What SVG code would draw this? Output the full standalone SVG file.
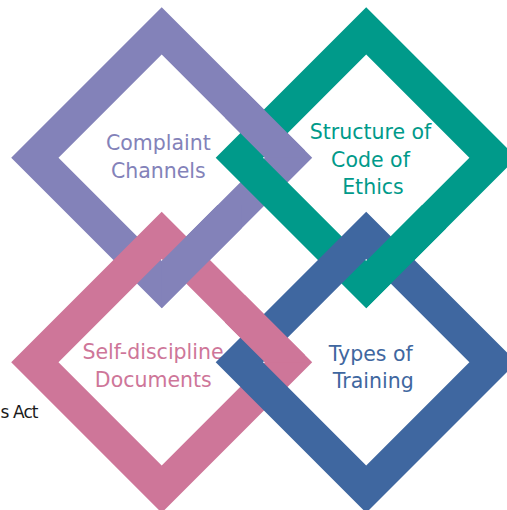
<svg xmlns="http://www.w3.org/2000/svg" xmlns:xlink="http://www.w3.org/1999/xlink" width="507" height="510" viewBox="0 0 507 510">
<style>
.lbl{font-family:"DejaVu Sans","Liberation Sans",sans-serif;font-size:20.5px;text-anchor:middle}
.ring{fill-rule:evenodd}
.purple{fill:#8382B9}
.teal{fill:#009A8A}
.pink{fill:#CE7699}
.blue{fill:#3F67A0}
</style>
<defs>
<path id="d-purple" class="ring purple" d="M161.7 7.2 L312.2 157.7 L161.7 308.2 L11.2 157.7 Z M161.7 54.5 L58.5 157.7 L161.7 260.9 L264.9 157.7 Z"/>
<path id="d-teal" class="ring teal" d="M366.2 7.2 L516.7 157.7 L366.2 308.2 L215.7 157.7 Z M366.2 54.5 L263 157.7 L366.2 260.9 L469.4 157.7 Z"/>
<path id="d-pink" class="ring pink" d="M161.7 211.8 L312.2 362.3 L161.7 512.8 L11.2 362.3 Z M161.7 259.1 L58.5 362.3 L161.7 465.5 L264.9 362.3 Z"/>
<path id="d-blue" class="ring blue" d="M366.2 211.8 L516.7 362.3 L366.2 512.8 L215.7 362.3 Z M366.2 259.1 L263 362.3 L366.2 465.5 L469.4 362.3 Z"/>
<clipPath id="cA"><rect x="225" y="90" width="80" height="67.7"/></clipPath>
<clipPath id="cB"><rect x="161.7" y="205" width="80" height="105"/></clipPath>
<clipPath id="cC"><rect x="225" y="295" width="80" height="67.3"/></clipPath>
<clipPath id="cD"><rect x="366.2" y="205" width="80" height="105"/></clipPath>
</defs>
<rect width="507" height="510" fill="#ffffff"/>
<g id="complaint-channels">
<use xlink:href="#d-purple" href="#d-purple"/>
<text class="lbl" fill="#8382B9" x="158.3" y="150">Complaint</text>
<text class="lbl" fill="#8382B9" x="158.3" y="177.5">Channels</text>
</g>
<g id="structure-code-ethics">
<use xlink:href="#d-teal" href="#d-teal"/>
<text class="lbl" fill="#009A8A" x="370.5" y="138.5">Structure of</text>
<text class="lbl" fill="#009A8A" x="370.5" y="166.5">Code of</text>
<text class="lbl" fill="#009A8A" x="373" y="194">Ethics</text>
</g>
<g id="self-discipline-documents">
<use xlink:href="#d-pink" href="#d-pink"/>
<text class="lbl" fill="#CE7699" x="153" y="358.5">Self-discipline</text>
<text class="lbl" fill="#CE7699" x="153.3" y="386.5">Documents</text>
</g>
<g id="types-of-training">
<use xlink:href="#d-blue" href="#d-blue"/>
<text class="lbl" fill="#3F67A0" x="370.8" y="361">Types of</text>
<text class="lbl" fill="#3F67A0" x="373.3" y="388">Training</text>
</g>
<g id="weave">
<use xlink:href="#d-purple" href="#d-purple" clip-path="url(#cA)"/>
<use xlink:href="#d-purple" href="#d-purple" clip-path="url(#cB)"/>
<use xlink:href="#d-pink" href="#d-pink" clip-path="url(#cC)"/>
<use xlink:href="#d-teal" href="#d-teal" clip-path="url(#cD)"/>
</g>
<text x="0.5" y="417.5" font-family="DejaVu Sans, sans-serif" font-size="17px" fill="#1a1a1a" textLength="38" lengthAdjust="spacing">s Act</text>
</svg>
